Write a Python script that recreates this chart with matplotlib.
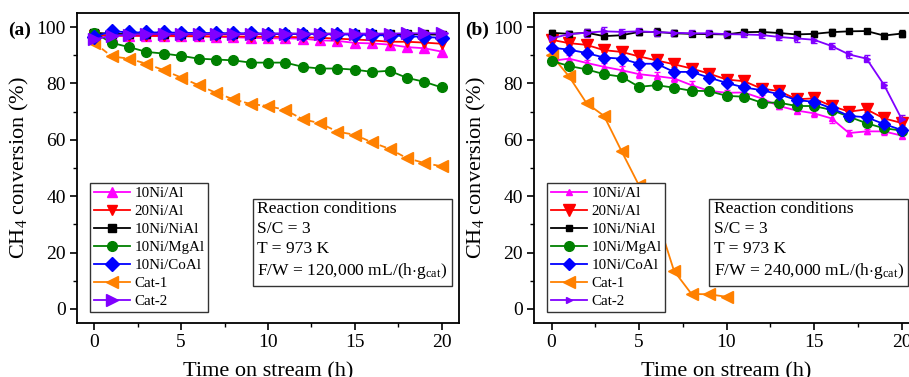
import matplotlib.pyplot as plt
from matplotlib.ticker import MultipleLocator
from matplotlib.lines import Line2D
import numpy as np

plt.rcParams['font.family'] = ['Liberation Serif', 'DejaVu Serif']
plt.rcParams['mathtext.fontset'] = 'custom'
plt.rcParams['mathtext.rm'] = 'Liberation Serif'
plt.rcParams['mathtext.it'] = 'Liberation Serif:italic'

# Time on stream (h)
time_h = list(range(21))
time_cat1_b = list(range(11))

labels = ['10Ni/Al', '20Ni/Al', '10Ni/NiAl', '10Ni/MgAl', '10Ni/CoAl', 'Cat-1', 'Cat-2']

# Panel (a): F/W = 120,000 mL/(h g_cat)
a_10ni_al = [97.0, 96.9, 96.9, 96.8, 96.8, 96.7, 96.7, 96.5, 96.4, 96.2, 96.0, 96.0, 95.9, 95.3, 95.1, 94.4, 94.2, 93.8, 92.9, 92.5, 91.3]
a_20ni_al = [97.2, 97.0, 97.0, 96.9, 96.9, 96.8, 96.8, 96.7, 96.7, 96.6, 96.6, 96.5, 96.4, 96.2, 95.9, 95.6, 95.3, 94.8, 94.8, 94.5, 94.1]
a_10ni_nial = [98.0, 97.6, 97.5, 97.5, 97.6, 97.5, 97.6, 97.5, 97.5, 97.6, 97.6, 97.5, 97.6, 97.7, 97.6, 97.5, 97.5, 97.4, 97.5, 97.4, 97.3]
a_10ni_mgal = [98.0, 94.4, 92.9, 91.2, 90.6, 89.8, 88.8, 88.5, 88.2, 87.4, 87.4, 87.4, 85.9, 85.3, 85.3, 84.9, 84.1, 84.5, 82.0, 80.6, 78.6]
a_10ni_coal = [96.6, 98.6, 98.1, 98.1, 98.1, 98.0, 97.9, 97.9, 97.8, 97.8, 97.7, 97.7, 97.6, 97.5, 97.4, 97.3, 97.2, 97.0, 96.8, 96.5, 96.2]
a_cat1 = [94.4, 89.6, 88.8, 87.0, 84.7, 82.1, 79.4, 76.7, 74.4, 72.7, 72.0, 70.6, 67.3, 65.9, 62.9, 61.8, 59.1, 56.8, 53.5, 51.8, 50.6]
a_cat2 = [95.6, 97.0, 97.3, 97.5, 97.6, 97.6, 97.6, 97.6, 97.6, 97.6, 97.7, 97.7, 97.7, 97.6, 97.7, 97.7, 97.7, 97.7, 97.8, 97.8, 97.8]

# Panel (b): F/W = 240,000 mL/(h g_cat)
b_10ni_al = [88.0, 88.8, 87.3, 85.9, 84.7, 83.3, 82.6, 81.8, 79.4, 77.4, 76.7, 76.8, 74.7, 72.0, 70.4, 69.4, 67.6, 62.4, 63.0, 63.0, 61.5]
b_20ni_al = [95.5, 94.3, 93.7, 91.8, 91.2, 89.6, 88.2, 86.8, 85.3, 83.5, 81.4, 80.8, 78.2, 77.3, 74.4, 74.7, 72.0, 70.0, 70.8, 67.6, 66.0]
b_10ni_nial = [98.0, 97.6, 98.0, 96.8, 97.1, 98.3, 98.3, 97.8, 97.6, 97.5, 97.4, 98.2, 98.3, 97.9, 97.4, 97.6, 98.2, 98.5, 98.6, 97.0, 97.7]
b_10ni_mgal = [88.0, 86.2, 85.0, 83.3, 82.4, 78.8, 79.4, 78.5, 77.4, 77.3, 75.6, 75.3, 73.2, 73.2, 72.0, 72.0, 70.6, 68.2, 65.9, 64.1, 63.3]
b_10ni_coal = [92.7, 92.0, 90.8, 89.2, 88.8, 87.0, 87.0, 84.1, 84.1, 82.1, 80.2, 78.6, 77.6, 76.2, 74.1, 73.5, 71.2, 68.5, 68.0, 65.6, 63.5]
b_cat1 = [90.0, 82.5, 73.0, 68.5, 56.0, 43.8, 33.0, 13.5, 5.3, 5.2, 4.3]
b_cat2 = [96.0, 97.5, 98.0, 98.5, 98.3, 98.5, 98.2, 98.0, 97.8, 97.8, 97.5, 97.4, 97.2, 96.5, 96.0, 95.5, 93.3, 90.3, 88.8, 79.5, 67.5]

# Error bars for panel (b)
b_err_10ni_al = [1.5, 1.2, 1.2, 1.3, 1.5, 1.3, 1.5, 1.4, 1.5, 1.3, 1.0, 1.2, 1.3, 1.2, 1.0, 1.2, 1.5, 1.2, 1.0, 1.3, 1.0]
b_err_20ni_al = [0.8, 0.8, 0.8, 0.8, 0.8, 0.8, 0.8, 0.8, 0.8, 0.8, 0.8, 0.8, 0.8, 0.8, 0.8, 0.8, 0.8, 0.8, 0.8, 0.8, 0.8]
b_err_10ni_nial = [0.8, 1.0, 1.2, 1.2, 1.0, 1.0, 1.3, 1.0, 0.8, 0.8, 1.3, 1.0, 1.2, 1.3, 1.0, 1.0, 1.2, 0.6, 0.6, 0.8, 1.2]
b_err_10ni_mgal = [0.6, 0.6, 0.6, 0.6, 0.6, 0.6, 0.6, 0.6, 0.6, 0.6, 0.6, 0.6, 0.6, 0.6, 0.6, 0.6, 0.6, 0.6, 0.6, 0.6, 0.6]
b_err_10ni_coal = [0.6, 0.6, 0.6, 0.6, 0.6, 0.6, 0.6, 0.6, 0.6, 0.6, 0.6, 0.6, 0.6, 0.6, 0.6, 0.6, 0.6, 0.6, 0.6, 0.6, 0.6]
b_err_cat2 = [1.0, 1.2, 1.5, 1.5, 1.2, 1.3, 1.2, 1.0, 1.0, 1.2, 1.0, 1.0, 1.2, 1.2, 1.3, 1.2, 1.0, 1.3, 1.2, 1.0, 1.3]

colors = ['#FF00FF', '#FF0000', '#000000', '#008000', '#0000FF', '#FF8000', '#8000FF']
markers = ['^', 'v', 's', 'o', 'D', '<', '>']
sizes_a = [7, 7, 6, 7, 7, 8, 8]
sizes_b = [5, 8, 4.5, 7, 6, 8, 4.5]


def style_axes(ax, panel_label, handles):
    ax.set_xlim(-1, 21)
    ax.set_ylim(-5, 105)
    ax.xaxis.set_major_locator(MultipleLocator(5))
    ax.xaxis.set_minor_locator(MultipleLocator(2.5))
    ax.yaxis.set_major_locator(MultipleLocator(20))
    ax.yaxis.set_minor_locator(MultipleLocator(10))
    ax.tick_params(which='major', direction='out', length=5, width=1.2, labelsize=14, pad=3)
    ax.tick_params(which='minor', direction='out', length=3, width=1.0)
    for sp in ax.spines.values():
        sp.set_linewidth(1.3)
    ax.set_xlabel('Time on stream (h)', fontsize=16, labelpad=8)
    ax.set_ylabel('CH$_4$ conversion (%)', fontsize=16, labelpad=4)
    ax.text(-0.18, 0.945, panel_label, transform=ax.transAxes, fontsize=14,
            fontweight='bold', ha='left', va='center')
    ax.legend(handles=handles, loc='upper left', bbox_to_anchor=(0.034, 0.452),
              fontsize=10.8, frameon=True, fancybox=False, edgecolor='#333333',
              framealpha=1, borderpad=0.25, labelspacing=0.3, handlelength=2.4,
              handletextpad=0.3, borderaxespad=0)


def conditions_box(ax, x0, flow):
    txt = ('Reaction conditions\nS/C = 3\nT = 973 K\n'
           'F/W = ' + flow + ' mL/(h$\\cdot$g$_{\\mathrm{cat}}$)')
    ax.text(x0, 0.135, txt, transform=ax.transAxes, fontsize=12.6, ha='left',
            va='bottom', linespacing=1.32,
            bbox=dict(boxstyle='square,pad=0.25', facecolor='white',
                      edgecolor='#333333', linewidth=1.0))


fig = plt.figure(figsize=(9.09, 3.77), dpi=100)
ax_a = fig.add_axes([0.0847, 0.1432, 0.4202, 0.8223])
ax_b = fig.add_axes([0.5875, 0.1432, 0.4235, 0.8223])

# Panel (a)
series_a = [a_10ni_al, a_20ni_al, a_10ni_nial, a_10ni_mgal, a_10ni_coal, a_cat1, a_cat2]
handles_a = []
for i, y in enumerate(series_a):
    ls = '--' if labels[i] == 'Cat-1' else '-'
    ax_a.plot(time_h, y, ls, color=colors[i], marker=markers[i], ms=sizes_a[i],
              lw=1.3, zorder=3 + (i in (4, 6)))
    handles_a.append(Line2D([], [], color=colors[i], marker=markers[i],
                            ms=sizes_a[i], lw=1.3, label=labels[i]))
style_axes(ax_a, '(a)', handles_a)
conditions_box(ax_a, 0.472, '120,000')

# Panel (b)
series_b = [b_10ni_al, b_20ni_al, b_10ni_nial, b_10ni_mgal, b_10ni_coal, None, b_cat2]
errs_b = [b_err_10ni_al, b_err_20ni_al, b_err_10ni_nial, b_err_10ni_mgal, b_err_10ni_coal, None, b_err_cat2]
handles_b = []
for i in range(7):
    if labels[i] == 'Cat-1':
        ax_b.plot(time_cat1_b, b_cat1, '-', color=colors[i], marker=markers[i],
                  ms=sizes_b[i], lw=1.3, zorder=3)
    else:
        ax_b.errorbar(time_h, series_b[i], yerr=errs_b[i], fmt='-', color=colors[i],
                      marker=markers[i], ms=sizes_b[i], lw=1.3, capsize=2.5,
                      elinewidth=1.0, capthick=1.0, zorder=3)
    # legend shows plain line + marker, no error bar
    handles_b.append(Line2D([], [], color=colors[i], marker=markers[i],
                            ms=sizes_b[i], lw=1.3, label=labels[i]))
style_axes(ax_b, '(b)', handles_b)
conditions_box(ax_b, 0.467, '240,000')

fig.savefig('out.png', dpi=100)
